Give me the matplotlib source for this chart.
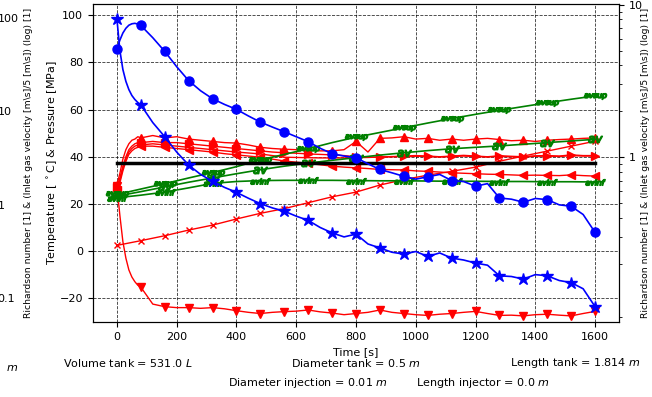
import matplotlib
matplotlib.use('Agg')
import matplotlib.pyplot as plt
import matplotlib.ticker as ticker

# time bases [s]
t_fine = [0, 10, 20, 30, 40, 50, 60, 70, 80, 120, 160, 200, 240, 280, 320, 360, 400,
          440, 480, 520, 560, 600, 640, 680, 720, 760, 800, 840, 880, 920, 960, 1000,
          1040, 1080, 1120, 1160, 1200, 1240, 1280, 1320, 1360, 1400, 1440, 1480,
          1520, 1560, 1600]
t80 = [0, 80, 160, 240, 320, 400, 480, 560, 640, 720, 800, 880, 960, 1040, 1120,
       1200, 1280, 1360, 1440, 1520, 1600]

# blue curves (read in left-axis units)
vel = [85.7, 89.5, 92.5, 94.5, 95.8, 96.4, 96.6, 96.3, 95.7, 90.5, 84.7, 78.2, 72.3,
       68.0, 64.6, 62.2, 60.1, 57.3, 54.7, 52.6, 50.6, 48.5, 46.4, 43.6, 41.3, 40.3,
       39.6, 37.0, 34.6, 33.2, 31.7, 30.5, 31.5, 32.5, 29.9, 29.5, 27.5, 28.6, 22.5,
       22.0, 20.7, 22.3, 21.8, 19.6, 19.0, 15.5, 7.9]
rich = [98.5, 85.0, 77.0, 72.0, 68.5, 66.0, 64.3, 63.0, 62.0, 54.5, 48.5, 42.0, 36.5,
        32.5, 29.6, 27.0, 24.9, 22.4, 20.1, 18.3, 16.9, 14.8, 13.0, 10.0, 7.7, 6.0,
        7.2, 3.0, 1.3, -0.5, -1.3, -0.2, -2.3, -0.8, -3.0, -3.8, -5.1, -6.0, -10.5,
        -10.8, -11.9, -10.0, -10.5, -12.5, -13.4, -16.0, -23.6]

# red curves
t_inlet = [27.5, 15.0, 4.0, -3.0, -8.0, -11.0, -13.0, -14.5, -15.3, -22.5, -23.6, -24.0,
           -24.0, -24.3, -24.0, -24.5, -25.3, -26.0, -26.5, -26.0, -25.7, -25.5, -25.0,
           -25.8, -26.3, -27.0, -26.5, -26.0, -25.0, -26.0, -26.5, -27.0, -27.3, -26.8,
           -26.5, -26.0, -25.6, -26.5, -27.3, -27.2, -27.5, -27.0, -26.8, -27.2, -27.5,
           -26.5, -25.6]
t_gas_up = [28.0, 33.0, 39.0, 43.0, 45.5, 47.0, 47.5, 48.5, 48.0, 49.0, 48.0, 48.5, 47.5,
            47.0, 46.5, 46.0, 45.8, 45.0, 44.0, 43.5, 43.2, 43.0, 42.8, 42.5, 42.5, 43.0,
            46.5, 42.0, 47.8, 48.0, 48.5, 47.5, 47.8, 47.0, 47.5, 47.0, 47.5, 47.8, 47.3,
            46.8, 47.0, 46.5, 47.0, 47.3, 47.5, 47.8, 48.0]
t_gas_mid = [27.0, 31.0, 36.0, 40.0, 43.0, 44.5, 45.5, 46.0, 46.0, 46.5, 46.0, 46.0, 45.5,
             45.0, 44.5, 44.0, 43.5, 43.0, 42.5, 42.0, 41.7, 41.5, 41.2, 41.0, 40.8, 40.5,
             40.0, 39.8, 39.8, 40.0, 40.3, 40.5, 40.3, 40.0, 40.3, 40.6, 40.3, 40.0, 40.4,
             40.2, 40.0, 40.4, 40.5, 40.3, 40.8, 40.5, 40.5]
t_gas_mix = [26.5, 30.0, 35.0, 39.0, 42.0, 43.5, 44.5, 45.0, 45.0, 45.5, 45.0, 44.5, 44.0,
             43.5, 43.0, 42.5, 42.0, 41.6, 41.2, 40.5, 39.8, 39.7, 39.6, 39.5, 39.5, 39.5,
             39.6, 39.7, 39.9, 40.1, 40.0, 40.2, 40.1, 39.9, 40.1, 40.3, 40.1, 39.9, 40.2,
             40.0, 39.9, 40.2, 40.3, 40.1, 40.5, 40.3, 40.3]
t_gas_low = [26.0, 29.0, 34.0, 38.0, 41.0, 42.5, 43.5, 44.0, 44.5, 44.5, 44.0, 43.5, 43.0,
             42.5, 42.0, 41.3, 40.8, 40.3, 39.8, 39.0, 38.2, 37.7, 37.2, 36.6, 36.0, 35.6,
             35.3, 35.0, 34.6, 34.5, 34.4, 34.0, 33.8, 33.5, 33.2, 33.0, 32.8, 32.6, 32.5,
             32.3, 32.1, 32.2, 32.1, 32.0, 32.3, 32.0, 31.8]
pressure = [2.4, 4.4, 6.5, 8.9, 11.0, 13.6, 16.0, 18.0, 20.5, 23.0, 25.0, 28.0, 30.3,
            32.2, 33.8, 35.6, 38.1, 40.3, 42.4, 44.5, 46.6]

# green curves
avsup = [24.0, 26.3, 28.6, 31.0, 33.3, 35.8, 38.7, 41.0, 43.4, 46.0, 48.3, 50.3, 52.3,
         54.3, 56.2, 58.0, 59.7, 61.3, 62.9, 64.4, 65.8]
av = [23.3, 25.2, 27.2, 29.2, 31.0, 32.8, 34.5, 36.0, 37.3, 38.5, 39.6, 40.7, 41.7,
      42.6, 43.4, 44.0, 44.6, 45.3, 46.0, 46.7, 47.4]
avinf = [22.6, 23.7, 25.0, 26.8, 28.7, 29.5, 29.9, 30.0, 30.0, 30.0, 29.9, 29.8, 29.8,
         29.7, 29.6, 29.6, 29.5, 29.5, 29.4, 29.4, 29.3]

t_ref = [0, 1600]
ref_level = [37.3, 37.3]

texts_row1 = ['Volume tank = 531.0 $L$', 'Diameter tank = 0.5 $m$', 'Length tank = 1.814 $m$']
texts_row2 = ['Diameter injection = 0.01 $m$', 'Length injector = 0.0 $m$']

W, H = 652, 397
fig = plt.figure(figsize=(W / 100, H / 100), dpi=100)
ax = fig.add_axes([93 / W, 1 - 322 / H, (619 - 93) / W, (322 - 4) / H])

mk80 = [i for i, v in enumerate(t_fine) if v % 80 == 0]

ax.plot(t_fine, t_gas_mix, color='r', lw=1)
ax.plot(t_fine, t_gas_low, color='r', lw=1, marker='<', ms=6, markevery=mk80)
ax.plot(t_fine, t_gas_mid, color='r', lw=1, marker='>', ms=6, markevery=mk80)
ax.plot(t_fine, t_gas_up, color='r', lw=1, marker='^', ms=6, markevery=mk80)
ax.plot(t_fine, t_inlet, color='r', lw=1, marker='v', ms=6, markevery=mk80)
ax.plot(t80, pressure, color='r', lw=1, marker='x', ms=5)

ax.plot(t80, avsup, color='g', lw=1.2, marker='$avsup$', ms=16, markevery=2)
ax.plot(t80, av, color='g', lw=1.2, marker='$av$', ms=10, markevery=2)
ax.plot(t80, avinf, color='g', lw=1.2, marker='$avinf$', ms=14, markevery=2)

ax.plot(t_ref, ref_level, color='k', lw=2.5)

ax.plot(t_fine, vel, color='b', lw=1.2, marker='o', ms=6.5, markevery=mk80)
ax.plot(t_fine, rich, color='b', lw=1.2, marker='*', ms=9, markevery=mk80)

ax.set_xlim(-80, 1680)
ax.set_ylim(-30.1, 104.8)
ax.set_xticks(range(0, 1601, 200))
ax.set_yticks(range(-20, 101, 20))
ax.grid(True, color='k', linestyle='--', linewidth=0.6, alpha=0.8)
ax.tick_params(labelsize=8)
ax.set_xlabel('Time [s]', fontsize=8)
ax.set_ylabel(r'Temperature [ $^\circ$C] & Pressure [MPa]', fontsize=8, labelpad=0)

plain = ticker.FuncFormatter(lambda v, p: f'{v:g}')
log_label = r'Richardson number [1] & (Inlet gas velocity [m\s]/5 [m\s]) (log) [1]'

ax2 = ax.twinx()
ax2.set_yscale('log')
ax2.set_ylim(0.0835, 10.1)
ax2.set_yticks([1, 10])
ax2.yaxis.set_major_formatter(plain)
ax2.yaxis.set_minor_formatter(ticker.NullFormatter())
ax2.tick_params(labelsize=8)
ax2.set_ylabel(log_label, fontsize=6.7, labelpad=-1)

ax3 = ax.twinx()
ax3.spines['right'].set_position(('axes', -0.2))
ax3.set_frame_on(False)
ax3.set_yscale('log')
ax3.set_ylim(0.0553, 141)
ax3.yaxis.set_major_formatter(plain)
ax3.yaxis.set_minor_formatter(ticker.NullFormatter())
ax3.tick_params(labelsize=8)
ax3.set_ylabel(log_label, fontsize=6.7)

for s, x in zip(texts_row1, [128, 356, 575]):
    fig.text(x / W, 1 - 363 / H, s, ha='center', va='center', fontsize=8)
for s, x in zip(texts_row2, [308, 483]):
    fig.text(x / W, 1 - 383 / H, s, ha='center', va='center', fontsize=8)
fig.text(12 / W, 1 - 368 / H, '$m$', ha='center', va='center', fontsize=8)

fig.savefig('out.png', dpi=100)
